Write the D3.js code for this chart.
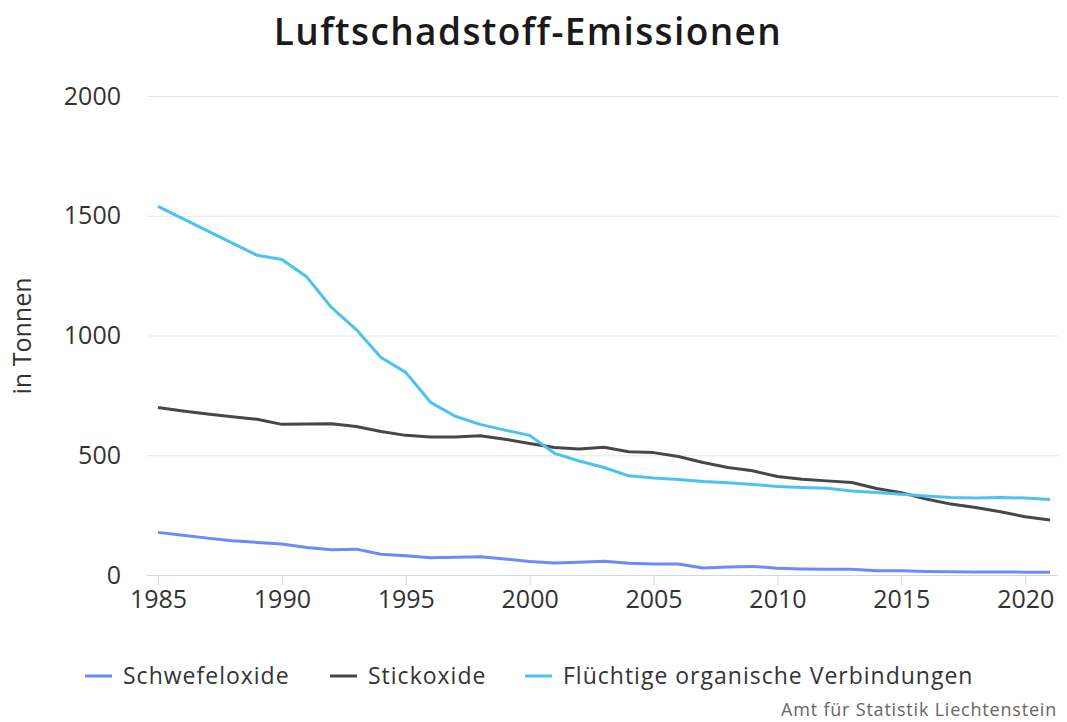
<!DOCTYPE html>
<html>
<head>
<meta charset="utf-8">
<script src="https://cdn.jsdelivr.net/npm/d3@7"></script>
<style>
body{margin:0;background:#fff;font-family:"Open Sans",sans-serif;}
.tick text{font-family:"Open Sans",sans-serif;}
</style>
</head>
<body>
<script>
var years = d3.range(1985, 2022);
var schwefel = [178,166,154,143,136,129,115,105,108,87,80,72,74,76,67,56,50,53,57,49,46,46,29,33,36,28,25,24,24,18,18,15,14,13,13,12,11];
var stick = [699,685,672,661,650,629,630,632,620,599,583,576,576,581,567,549,532,526,533,515,511,495,470,449,435,411,400,393,386,361,344,317,296,282,264,243,230];
var fluechtig = [1539,1488,1437,1386,1335,1317,1245,1117,1025,908,846,721,663,629,605,583,508,476,449,414,405,399,390,385,378,370,365,362,351,344,337,330,324,321,324,321,315];
var seriesNames = ['Schwefeloxide','Stickoxide','Flüchtige organische Verbindungen'];
var seriesColors = ['#6b8bfd','#474747','#4cc2ef'];
var yTicks = [0,500,1000,1500,2000];
var xTicks = [1985,1990,1995,2000,2005,2010,2015,2020];

var width = 1067, height = 722;
var svg = d3.select('body').append('svg').attr('width',width).attr('height',height);

var xScale = d3.scaleLinear().domain([1985,2021]).range([158,1050]);
var yScale = d3.scaleLinear().domain([0,2000]).range([575,96]);

//Title
svg.append('text').attr('x',528).attr('y',45).attr('text-anchor','middle')
	.style('font-size','37px').style('font-weight','600').style('letter-spacing','1.4px').attr('fill','#1a1a1a')
	.text('Luftschadstoff-Emissionen');

//Gridlines
svg.append('g').selectAll('line').data(yTicks.filter(function(d){return d>0;})).enter()
	.append('line')
	.attr('x1',147).attr('x2',1058)
	.attr('y1',function(d){return yScale(d)+0.5;}).attr('y2',function(d){return yScale(d)+0.5;})
	.attr('stroke','#e6e6e6').attr('stroke-width',1);

//Y axis
var yAxis = d3.axisLeft(yScale).tickValues(yTicks).tickFormat(d3.format('d')).tickSize(0).tickPadding(0);
var yAxisG = svg.append('g').attr('transform','translate(121,0)').call(yAxis);
yAxisG.select('.domain').remove();
yAxisG.selectAll('text').style('font-size','25px').attr('fill','#333');

svg.append('text').attr('transform','translate(31,336) rotate(-90)').attr('text-anchor','middle')
	.style('font-size','25px').attr('fill','#333').text('in Tonnen');

//X axis
var xAxis = d3.axisBottom(xScale).tickValues(xTicks).tickFormat(d3.format('d')).tickSize(10).tickPadding(5);
var xAxisG = svg.append('g').attr('transform','translate(0,575)').call(xAxis);
xAxisG.select('.domain').attr('d','M147,0.5H1058').attr('stroke','#ccd6eb');
xAxisG.selectAll('.tick line').attr('stroke','#ccd6eb');
xAxisG.selectAll('text').style('font-size','25px').attr('fill','#333');

//Lines
var allSeries = [schwefel, stick, fluechtig];
var line = d3.line().x(function(d,i){return xScale(years[i]);}).y(function(d){return yScale(d);});
svg.append('g').selectAll('path').data(allSeries).enter()
	.append('path')
	.attr('d',line)
	.attr('fill','none')
	.attr('stroke',function(d,i){return seriesColors[i];})
	.attr('stroke-width',3)
	.attr('stroke-linejoin','round');

//Legend
var legendX = [85,330,525];
var legendG = svg.append('g').attr('transform','translate(0,676)');
legendG.selectAll('line').data(seriesNames).enter()
	.append('line')
	.attr('x1',function(d,i){return legendX[i];}).attr('x2',function(d,i){return legendX[i]+27;})
	.attr('y1',0).attr('y2',0)
	.attr('stroke',function(d,i){return seriesColors[i];}).attr('stroke-width',3);
legendG.selectAll('text').data(seriesNames).enter()
	.append('text')
	.attr('x',function(d,i){return legendX[i]+38;})
	.attr('y',8)
	.style('font-size','23px').style('letter-spacing','1px').attr('fill','#333')
	.text(function(d){return d;});

//Credit
svg.append('text').attr('x',1057).attr('y',716).attr('text-anchor','end')
	.style('font-size','18px').style('letter-spacing','0.8px').attr('fill','#666').text('Amt für Statistik Liechtenstein');
</script>
</body>
</html>
